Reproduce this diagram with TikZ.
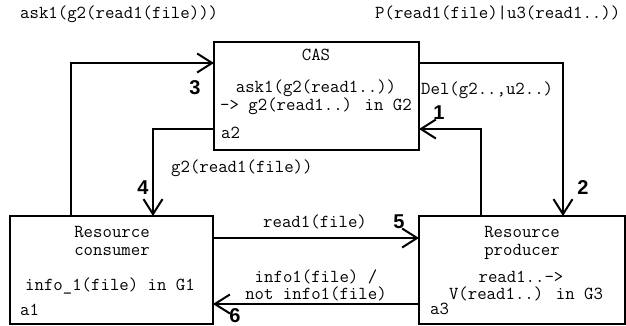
\documentclass[tikz,border=0pt]{standalone}
\usepackage{fontspec}
\newfontfamily\digf{Liberation Sans}
\usetikzlibrary{arrows.meta}
\begin{document}
\begin{tikzpicture}[x=1pt,y=-1pt,
  box/.style={draw,line width=2pt,outer sep=0pt,inner sep=0pt,minimum width=#1,minimum height=108pt},
  txt/.style={inner sep=0pt,text height=11pt,text depth=3pt,font=\ttfamily\fontsize{18.3}{20}\selectfont},
  txtb/.style={inner sep=0pt,align=center,font=\ttfamily\fontsize{18.3}{#1}\selectfont},
  num/.style={inner sep=0pt,font=\digf\bfseries\fontsize{20}{22}\selectfont},
  arr/.style={line width=2pt,-{Straight Barb[length=15pt,width=19pt,line width=2pt]}}]
\useasboundingbox (0,0) rectangle (626,326);
% boxes
\node[box=205pt] (cas) at (316.5,96) {};
\node[box=203pt] (cons) at (111.5,270) {};
\node[box=206pt] (prod) at (522,270) {};
% elbow coordinates
\coordinate (k3) at (71,63);
\coordinate (k4) at (153,129);
\coordinate (k1) at (481,129);
\coordinate (k2) at (563,63);
\coordinate (k5) at (0,238);
\coordinate (k6) at (0,304);
% connectors
\draw[arr] (cons.north -| k3) |- (cas.west |- k3);
\draw[arr] (cas.west |- k4) -| (cons.north -| k4);
\draw[arr] (prod.north -| k1) |- (cas.east |- k1);
\draw[arr] (cas.east |- k2) -| (prod.north -| k2);
\draw[arr] (cons.east |- k5) -- (prod.west |- k5);
\draw[arr] (prod.west |- k6) -- (cons.east |- k6);
% top labels
\node[txt,anchor=west] (t1) at (20,15) {ask1(g2(read1(file)))};
\node[txt,anchor=west] (t2) at (375,15) {P(read1(file)|u3(read1..))};
% CAS text
\node[txt] (cas1) at (316,57) {CAS};
\node[txtb=16] (cas2) at (316,97.5) {ask1(g2(read1..))\\-> g2(read1..) in G2};
\node[txt,anchor=west] (cas4) at (221,135) {a2};
% consumer text
\node[txt] (co1) at (112,233) {Resource};
\node[txt] (co2) at (112,251) {consumer};
\node[txt,anchor=west] (co3) at (25,286) {info\_1(file) in G1};
\node[txt,anchor=west] (co4) at (20,311) {a1};
% producer text
\node[txt] (pr1) at (522,233) {Resource};
\node[txt] (pr2) at (522,251) {producer};
\node[txt] (pr3) at (521,278) {read1..->};
\node[txt] (pr4) at (526,295) {V(read1..) in G3};
\node[txt,anchor=west] (pr5) at (430,310) {a3};
% connector labels
\node[txt,anchor=west] (l4) at (171,168) {g2(read1(file))};
\node[txt,anchor=west] (l2) at (421,91) {Del(g2..,u2..)};
\node[txt,anchor=west] (l5) at (263,223) {read1(file)};
\node[txtb=17] (l6) at (316,285) {info1(file) /\\not info1(file)};
% numbers
\node[num] (n1) at (439,113) {1};
\node[num] (n2) at (583,188) {2};
\node[num] (n3) at (195,88) {3};
\node[num] (n4) at (143,188) {4};
\node[num] (n5) at (399,222) {5};
\node[num] (n6) at (235,316) {6};
\end{tikzpicture}
\end{document}
